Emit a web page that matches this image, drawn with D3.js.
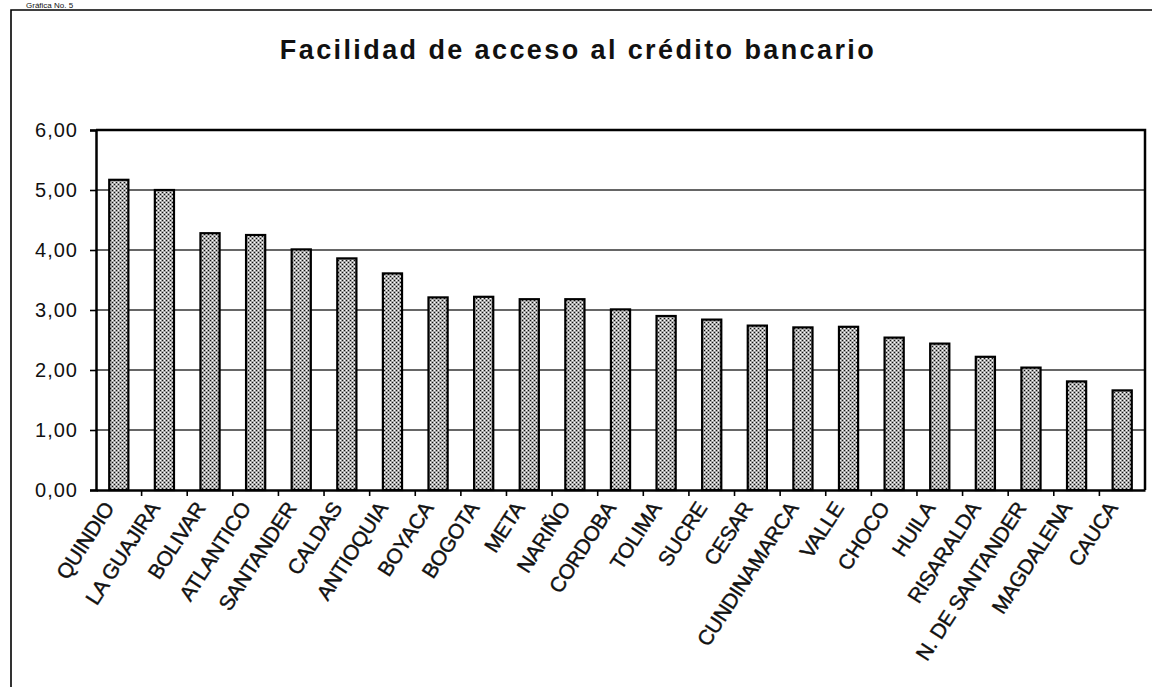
<!DOCTYPE html>
<html>
<head>
<meta charset="utf-8">
<script src="https://cdn.jsdelivr.net/npm/d3@7"></script>
<style>
  body { margin: 0; background: #fff; }
  svg { display: block; font-family: Arial, "Liberation Sans", sans-serif; }
</style>
</head>
<body>
<div class="chart"></div>
<script>
// data
const departamentos = ["QUINDIO", "LA GUAJIRA", "BOLIVAR", "ATLANTICO", "SANTANDER", "CALDAS",
  "ANTIOQUIA", "BOYACA", "BOGOTA", "META", "NARIÑO", "CORDOBA", "TOLIMA", "SUCRE", "CESAR",
  "CUNDINAMARCA", "VALLE", "CHOCO", "HUILA", "RISARALDA", "N. DE SANTANDER", "MAGDALENA", "CAUCA"]
const valores = [5.17, 5.00, 4.28, 4.25, 4.01, 3.86, 3.61, 3.21, 3.22, 3.18, 3.18, 3.01, 2.90,
  2.84, 2.74, 2.71, 2.72, 2.54, 2.44, 2.22, 2.04, 1.81, 1.66]
const yTicks = [0, 1, 2, 3, 4, 5, 6]

const data = departamentos.map((d, i) => ({ name: d, value: valores[i] }))

const W = 1152, H = 687
const margin = { top: 130, right: 7, bottom: 197, left: 96 }
const width = W - margin.left - margin.right
const height = H - margin.top - margin.bottom

const svg = d3.select(".chart")
  .append("svg")
  .attr("width", W)
  .attr("height", H)

// stipple fill like the old print
const pat = svg.append("defs").append("pattern")
  .attr("id", "stipple")
  .attr("patternUnits", "userSpaceOnUse")
  .attr("width", 4).attr("height", 4)
pat.append("rect").attr("width", 4).attr("height", 4).attr("fill", "#a8a8a8")
pat.append("rect").attr("x", 0).attr("y", 0).attr("width", 1).attr("height", 1).attr("fill", "#111")
pat.append("rect").attr("x", 2).attr("y", 2).attr("width", 1).attr("height", 1).attr("fill", "#111")
pat.append("rect").attr("x", 2).attr("y", 0).attr("width", 1).attr("height", 1).attr("fill", "#fff")
pat.append("rect").attr("x", 0).attr("y", 2).attr("width", 1).attr("height", 1).attr("fill", "#fff")

// outer frame (right/bottom run off the page)
svg.append("path")
  .attr("d", `M11,${H + 2} L11,10 L${W + 2},10`)
  .attr("fill", "none")
  .attr("stroke", "#000")
  .attr("stroke-width", 1.6)

// caption above the frame
svg.append("text")
  .attr("x", 26)
  .attr("y", 8)
  .attr("font-size", 8)
  .attr("fill", "#111")
  .text("Gráfica No. 5")

svg.append("text")
  .attr("x", 578)
  .attr("y", 59)
  .attr("text-anchor", "middle")
  .attr("font-size", 27)
  .attr("font-weight", "bold")
  .attr("letter-spacing", 2.4)
  .attr("fill", "#111")
  .text("Facilidad de acceso al crédito bancario")

const g = svg.append("g")
  .attr("transform", `translate(${margin.left},${margin.top})`)

const xScale = d3.scaleBand()
  .domain(departamentos)
  .range([0, width])
  .paddingInner(0.58)
  .paddingOuter(0.29)

const yScale = d3.scaleLinear()
  .domain([0, 6])
  .range([height, 0])

// gridlines
g.selectAll(".grid")
  .data(yTicks.filter(d => d > 0 && d < 6))
  .join("line")
  .attr("class", "grid")
  .attr("x1", 0).attr("x2", width)
  .attr("y1", d => yScale(d)).attr("y2", d => yScale(d))
  .attr("stroke", "#333")
  .attr("stroke-width", 1.4)

// plot frame top/right
g.append("path")
  .attr("d", `M0,0 L${width},0 L${width},${height}`)
  .attr("fill", "none")
  .attr("stroke", "#000")
  .attr("stroke-width", 2.5)

g.selectAll(".bar")
  .data(data)
  .join("rect")
  .attr("class", "bar")
  .attr("x", d => xScale(d.name))
  .attr("width", xScale.bandwidth())
  .attr("y", d => yScale(d.value))
  .attr("height", d => yScale(0) - yScale(d.value))
  .attr("fill", "url(#stipple)")
  .attr("stroke", "#000")
  .attr("stroke-width", 2.2)

// y axis
const yAxis = d3.axisLeft(yScale)
  .tickValues(yTicks)
  .tickSize(6)
  .tickPadding(12)
  .tickFormat(d => d3.format(".2f")(d).replace(".", ","))

g.append("g")
  .attr("class", "axis y-axis")
  .call(yAxis)
  .call(s => s.select(".domain").attr("stroke-width", 2.5))
  .call(s => s.selectAll(".tick line").attr("stroke-width", 1.6))
  .call(s => s.selectAll("text")
    .attr("font-size", 20)
    .attr("letter-spacing", 1)
    .attr("fill", "#111"))

// x axis: ticks sit between the categories
const xAxis = d3.axisBottom(xScale).tickSize(0).tickFormat("")
g.append("g")
  .attr("class", "axis x-axis")
  .attr("transform", `translate(0,${height})`)
  .call(xAxis)
  .call(s => s.select(".domain").attr("stroke-width", 2.5))

g.selectAll(".xtick")
  .data(departamentos.slice(1))
  .join("line")
  .attr("class", "xtick")
  .attr("x1", d => xScale(d) - xScale.step() * xScale.paddingInner() / 2)
  .attr("x2", d => xScale(d) - xScale.step() * xScale.paddingInner() / 2)
  .attr("y1", height)
  .attr("y2", height + 6)
  .attr("stroke", "#000")
  .attr("stroke-width", 1.6)

g.selectAll(".xlabel")
  .data(departamentos)
  .join("text")
  .attr("class", "xlabel")
  .attr("transform", d => `translate(${xScale(d) + xScale.bandwidth() / 2 - 10},${height + 14}) rotate(-57)`)
  .attr("text-anchor", "end")
  .attr("dy", "0.35em")
  .attr("font-size", 21)
  .attr("letter-spacing", -0.4)
  .attr("stroke", "#111")
  .attr("stroke-width", 0.4)
  .attr("fill", "#111")
  .text(d => d)
</script>
</body>
</html>
